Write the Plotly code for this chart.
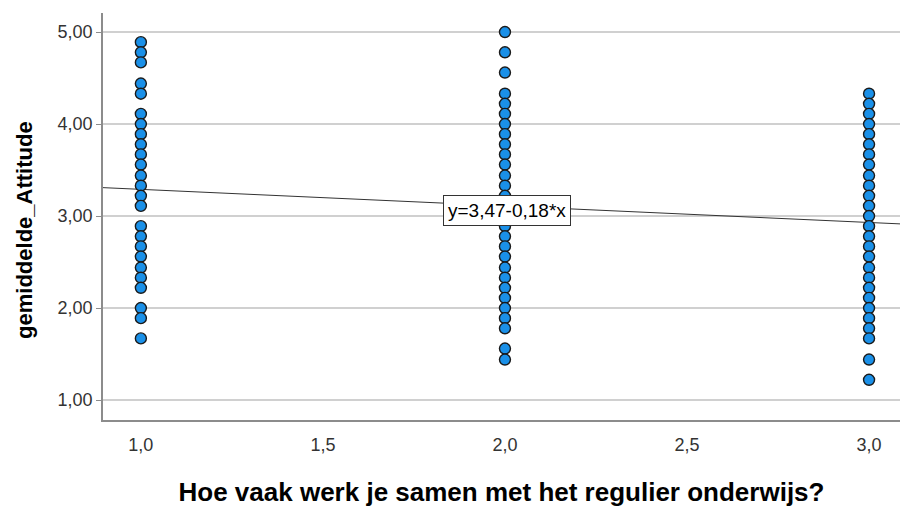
import plotly.graph_objects as go

# Frequency groups (x) and mean attitude scores per respondent (y)
group_1 = [4.89, 4.78, 4.67, 4.44, 4.33, 4.11, 4.00, 3.89, 3.78, 3.67, 3.56,
           3.44, 3.33, 3.22, 3.11, 2.89, 2.78, 2.67, 2.56, 2.44, 2.33, 2.22,
           2.00, 1.89, 1.67]
group_2 = [5.00, 4.78, 4.56, 4.33, 4.22, 4.11, 4.00, 3.89, 3.78, 3.67, 3.56,
           3.44, 3.33, 3.22, 3.11, 3.00, 2.89, 2.78, 2.67, 2.56, 2.44, 2.33,
           2.22, 2.11, 2.00, 1.89, 1.78, 1.56, 1.44]
group_3 = [4.33, 4.22, 4.11, 4.00, 3.89, 3.78, 3.67, 3.56, 3.44, 3.33, 3.22,
           3.11, 3.00, 2.89, 2.78, 2.67, 2.56, 2.44, 2.33, 2.22, 2.11, 2.00,
           1.89, 1.78, 1.67, 1.44, 1.22]
group_values = [1.0, 2.0, 3.0]

# Fit line y = a + b*x
intercept = 3.47
slope = -0.18
fit_label = "y=3,47-0,18*x"

x_range = [0.896, 3.085]
y_range = [0.783, 5.207]

xs, ys = [], []
for gx, vals in zip(group_values, [group_1, group_2, group_3]):
    xs += [gx] * len(vals)
    ys += vals

font_family = "Liberation Sans, Arial, sans-serif"

fig = go.Figure()
fig.add_trace(go.Scatter(
    x=x_range,
    y=[intercept + slope * v for v in x_range],
    mode="lines",
    line=dict(color="#333333", width=1),
    hoverinfo="skip",
    showlegend=False,
))
fig.add_trace(go.Scatter(
    x=xs, y=ys, mode="markers",
    marker=dict(size=11, color="#1a90e8",
                line=dict(color="#1a1a1a", width=1.4)),
    showlegend=False,
))

fig.add_annotation(
    x=2.005, y=3.06,
    text=fit_label, showarrow=False,
    font=dict(family=font_family, size=19, color="#000000"),
    bgcolor="white", bordercolor="#333333", borderwidth=1, borderpad=4,
)

# Y-axis title placed as a rotated annotation
fig.add_annotation(
    xref="paper", yref="paper", x=0, y=0.467, xshift=-78,
    xanchor="center", yanchor="middle", textangle=-90,
    text="<b>gemiddelde_Attitude</b>", showarrow=False,
    font=dict(family=font_family, size=22, color="#000000"),
)

fig.update_layout(
    width=900, height=510,
    margin=dict(l=103, r=0, t=13, b=90),
    paper_bgcolor="white", plot_bgcolor="white",
    separators=", ",
    font=dict(family=font_family, color="#333333"),
    xaxis=dict(
        range=x_range, tickvals=[1.0, 1.5, 2.0, 2.5, 3.0], tickformat=".1f",
        showgrid=False, zeroline=False,
        showline=True, linecolor="#8c8c8c", linewidth=1.5,
        ticks="", ticklabelstandoff=8,
        tickfont=dict(size=18, color="#333333"),
        title=dict(text="<b>Hoe vaak werk je samen met het regulier onderwijs?</b>",
                   font=dict(size=26, color="#000000"), standoff=28),
    ),
    yaxis=dict(
        range=y_range, tickvals=[1, 2, 3, 4, 5], tickformat=".2f",
        showgrid=True, gridcolor="#d0d0d0", gridwidth=1.5, zeroline=False,
        showline=True, linecolor="#8c8c8c", linewidth=1.5,
        ticks="outside", ticklen=5, tickcolor="#8c8c8c",
        tickfont=dict(size=18, color="#333333"),
    ),
)

fig.write_html("out.html")
